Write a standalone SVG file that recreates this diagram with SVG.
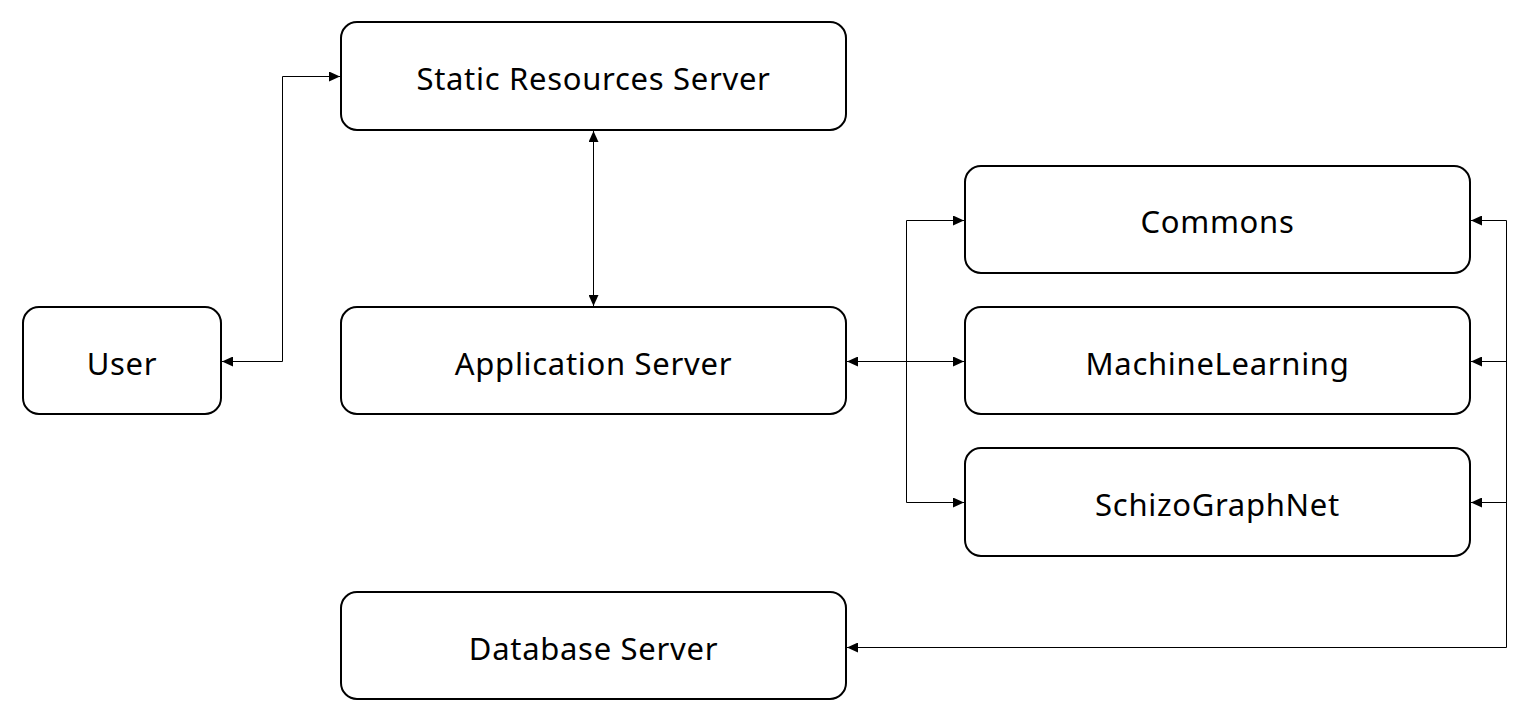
<svg xmlns="http://www.w3.org/2000/svg" width="1529" height="723" viewBox="0 0 1529 723">
<style>
.box{fill:#fff;stroke:#000;stroke-width:2}
.lbl{font-family:"Noto Sans","Liberation Sans",sans-serif;font-size:31px;letter-spacing:0.7px;fill:#000;text-anchor:middle;dominant-baseline:central}
.edge{fill:none;stroke:#000;stroke-width:1}
</style>
<defs>
<marker id="arr" viewBox="0 0 11 10" refX="11" refY="5" markerWidth="11" markerHeight="10" markerUnits="userSpaceOnUse" orient="auto-start-reverse">
<path d="M0,0 L11,5 L0,10 z" fill="#000"/>
</marker>
</defs>
<rect width="1529" height="723" fill="#fff"/>
<g id="connectors">
<path class="edge" d="M222,361.5 H282.5 V76.5 H340" marker-start="url(#arr)" marker-end="url(#arr)"/>
<path class="edge" d="M593.5,131 V306" marker-start="url(#arr)" marker-end="url(#arr)"/>
<path class="edge" d="M847,361.5 H964" marker-start="url(#arr)" marker-end="url(#arr)"/>
<path class="edge" d="M906.5,361.5 V220.5 H964" marker-end="url(#arr)"/>
<path class="edge" d="M906.5,361.5 V502.5 H964" marker-end="url(#arr)"/>
<path class="edge" d="M847,647.5 H1506.5 V220.5 H1471" marker-start="url(#arr)" marker-end="url(#arr)"/>
<path class="edge" d="M1506.5,361.5 H1471" marker-end="url(#arr)"/>
<path class="edge" d="M1506.5,502.5 H1471" marker-end="url(#arr)"/>
</g>
<g id="static"><rect class="box" x="341" y="22" width="505" height="108" rx="16"/><text class="lbl" x="593.5" y="78">Static Resources Server</text></g>
<g id="user"><rect class="box" x="23" y="307" width="198" height="107" rx="16"/><text class="lbl" x="122" y="363">User</text></g>
<g id="app"><rect class="box" x="341" y="307" width="505" height="107" rx="16"/><text class="lbl" x="593.5" y="363">Application Server</text></g>
<g id="commons"><rect class="box" x="965" y="166" width="505" height="107" rx="16"/><text class="lbl" x="1217.5" y="221">Commons</text></g>
<g id="ml"><rect class="box" x="965" y="307" width="505" height="107" rx="16"/><text class="lbl" x="1217.5" y="363">MachineLearning</text></g>
<g id="sgn"><rect class="box" x="965" y="448" width="505" height="108" rx="16"/><text class="lbl" x="1217.5" y="504">SchizoGraphNet</text></g>
<g id="db"><rect class="box" x="341" y="592" width="505" height="107" rx="16"/><text class="lbl" x="593.5" y="648">Database Server</text></g>
</svg>
